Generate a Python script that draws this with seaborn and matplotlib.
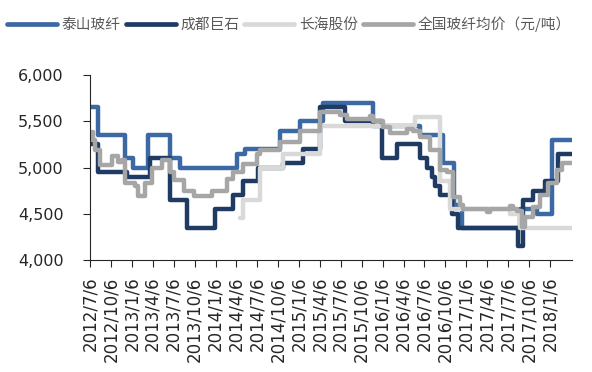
import numpy as np
import pandas as pd
import matplotlib
matplotlib.use("Agg")
import matplotlib.pyplot as plt
import matplotlib.ticker as mticker
import seaborn as sns

# step change points (date, value)
taishan_dates = ["2012-07-06", "2012-08-10", "2012-12-06", "2013-01-10", "2013-03-16",
                 "2013-06-21", "2013-08-03", "2014-04-09", "2014-05-14", "2014-10-14",
                 "2015-01-09", "2015-04-20", "2015-11-24", "2016-06-17", "2016-09-25",
                 "2016-11-13", "2016-12-18", "2017-08-28", "2017-11-10", "2018-01-14",
                 "2018-04-12"]
taishan_vals = [5650, 5350, 5100, 5000, 5350, 5100, 5000, 5150, 5200, 5400,
                5500, 5700, 5450, 5350, 5050, 4600, 4350, 4550, 4500, 5300, 5300]

chengdu_dates = ["2012-07-06", "2012-08-10", "2012-12-15", "2013-03-25", "2013-06-21",
                 "2013-09-03", "2014-01-03", "2014-03-23", "2014-05-05", "2014-07-10",
                 "2014-10-27", "2015-01-23", "2015-04-07", "2015-07-25", "2016-01-03",
                 "2016-03-08", "2016-06-17", "2016-07-17", "2016-08-08", "2016-08-21",
                 "2016-09-12", "2016-11-04", "2016-11-30", "2017-08-19", "2017-09-10",
                 "2017-10-23", "2017-12-15", "2018-02-10", "2018-04-12"]
chengdu_vals = [5250, 4950, 4900, 5100, 4650, 4350, 4550, 4700, 4850, 5000,
                5050, 5200, 5650, 5500, 5100, 5250, 5100, 5000, 4900, 4800,
                4700, 4500, 4350, 4150, 4650, 4750, 4850, 5150, 5150]

changhai_dates = ["2014-04-22", "2014-05-05", "2014-07-19", "2014-10-27", "2015-04-07",
                  "2016-05-26", "2016-09-12", "2016-10-26", "2017-07-15", "2017-08-28",
                  "2018-04-12"]
changhai_vals = [4450, 4650, 5000, 5150, 5450, 5550, 4850, 4550, 4500, 4350, 4350]

avg_dates = ["2012-07-06", "2012-07-19", "2012-07-28", "2012-08-19", "2012-10-10",
             "2012-11-05", "2012-11-23", "2012-12-06", "2013-01-19", "2013-02-01",
             "2013-03-03", "2013-04-03", "2013-05-17", "2013-06-21", "2013-07-10",
             "2013-08-20", "2013-10-05", "2013-12-20", "2014-02-25", "2014-03-23",
             "2014-05-05", "2014-07-06", "2014-07-19", "2014-10-14", "2015-01-09",
             "2015-04-07", "2015-07-03", "2015-08-03", "2015-11-11", "2015-11-24",
             "2016-01-07", "2016-02-07", "2016-04-21", "2016-05-17", "2016-06-17",
             "2016-07-30", "2016-09-12", "2016-10-13", "2016-11-08", "2016-12-09",
             "2016-12-22", "2017-04-05", "2017-04-19", "2017-07-15", "2017-07-28",
             "2017-08-15", "2017-09-05", "2017-09-19", "2017-10-23", "2017-11-23",
             "2017-12-28", "2018-02-05", "2018-02-27", "2018-04-12"]
avg_vals = [5380, 5300, 5190, 5030, 5120, 5060, 5080, 4830, 4800, 4690,
            4830, 5000, 5080, 4950, 4860, 4750, 4690, 4750, 4880, 4950,
            5040, 5150, 5190, 5280, 5400, 5600, 5570, 5520, 5560, 5500,
            5440, 5370, 5420, 5400, 5330, 5190, 4970, 4950, 4680, 4590,
            4550, 4520, 4550, 4580, 4550, 4530, 4360, 4470, 4575, 4700,
            4830, 4970, 5050, 5050]

names = ["泰山玻纤", "成都巨石", "长海股份", "全国玻纤均价（元/吨）"]
colors = ["#3C69A3", "#1F3B64", "#D9D9D9", "#A6A6A6"]

tick_labels = ["2012/7/6", "2012/10/6", "2013/1/6", "2013/4/6", "2013/7/6", "2013/10/6",
               "2014/1/6", "2014/4/6", "2014/7/6", "2014/10/6", "2015/1/6", "2015/4/6",
               "2015/7/6", "2015/10/6", "2016/1/6", "2016/4/6", "2016/7/6", "2016/10/6",
               "2017/1/6", "2017/4/6", "2017/7/6", "2017/10/6", "2018/1/6"]

series = [(taishan_dates, taishan_vals), (chengdu_dates, chengdu_vals),
          (changhai_dates, changhai_vals), (avg_dates, avg_vals)]

frames = []
for name, (d, v) in zip(names, series):
    frames.append(pd.DataFrame({"date": pd.to_datetime(d), "price": v, "name": name}))
df = pd.concat(frames, ignore_index=True)

sns.set_style("ticks")
plt.rcParams["font.family"] = ["DejaVu Sans", "Noto Sans CJK SC"]

fig = plt.figure(figsize=(5.92, 3.72), dpi=100)
ax = fig.add_axes([90 / 592, 1 - 260 / 372, 482 / 592, 185 / 372])

for name, c in zip(names, colors):
    sns.lineplot(data=df[df["name"] == name], x="date", y="price", ax=ax,
                 color=c, lw=3.2, drawstyle="steps-post", label=name)

ax.set_xlim(pd.Timestamp("2012-07-06"), pd.Timestamp("2018-04-12"))
ax.set_ylim(4000, 6000)
ax.set_yticks([4000, 4500, 5000, 5500, 6000])
ax.yaxis.set_major_formatter(mticker.FuncFormatter(lambda v, p: f"{v:,.0f}"))
ax.set_xticks(pd.to_datetime(tick_labels, format="%Y/%m/%d"))
ax.set_xticklabels(tick_labels, rotation=90, fontsize=12)
ax.tick_params(axis="y", labelsize=11.5, length=5, pad=14)
ax.tick_params(axis="x", length=5, pad=7)
ax.set_xlabel("")
ax.set_ylabel("")
sns.despine(ax=ax)

handles, labels = ax.get_legend_handles_labels()
ax.get_legend().remove()
leg = fig.legend(handles, labels, loc="center left", bbox_to_anchor=(0.012, 0.935),
                 ncol=4, frameon=False, handlelength=3.4, handletextpad=0.3,
                 columnspacing=0.35, borderpad=0, borderaxespad=0,
                 prop={"family": "Noto Sans CJK SC", "size": 10.6},
                 labelcolor="#595959")
for h in leg.get_lines():
    h.set_linewidth(3.4)

fig.savefig("out.png", dpi=100)
